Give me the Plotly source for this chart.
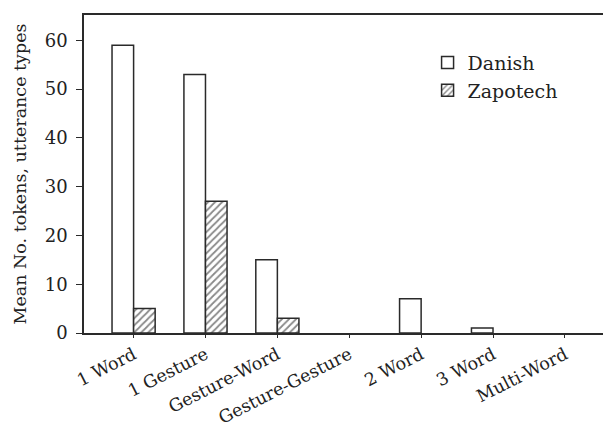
import plotly.graph_objects as go

categories = ["1 Word", "1 Gesture", "Gesture-Word", "Gesture-Gesture", "2 Word", "3 Word", "Multi-Word"]
danish = [59, 53, 15, 0, 7, 1, 0]
zapotech = [5, 27, 3, 0, 0, 0, 0]
y_ticks = [0, 10, 20, 30, 40, 50, 60]

FONT = "DejaVu Serif"
LINE = "#2a2a2a"
TXT = "#222"

xs = list(range(len(categories)))


def outline(vals):
    return [1.5 if v > 0 else 0 for v in vals]


fig = go.Figure()
fig.add_trace(go.Bar(
    x=xs, y=danish, name="Danish",
    marker=dict(color="white", line=dict(color=LINE, width=outline(danish))),
))
fig.add_trace(go.Bar(
    x=xs, y=zapotech, name="Zapotech",
    marker=dict(color="white", line=dict(color=LINE, width=outline(zapotech)),
                pattern=dict(shape="/", fgcolor="#111", bgcolor="white", size=5, solidity=0.35)),
))

fig.update_layout(
    width=603, height=429,
    margin=dict(l=84, r=0, t=15, b=96, autoexpand=False),
    paper_bgcolor="white", plot_bgcolor="white",
    barmode="group", bargap=0.4, bargroupgap=0,
    font=dict(family=FONT, size=17, color=TXT),
    showlegend=True,
    legend=dict(x=0.662, y=0.91, xanchor="left", yanchor="top",
                font=dict(family=FONT, size=19, color=TXT),
                bgcolor="rgba(0,0,0,0)", tracegroupgap=0),
    xaxis=dict(
        tickmode="array", tickvals=xs, ticktext=categories,
        range=[-0.69, 6.53], tickangle=-27, automargin=False,
        showline=True, linecolor=LINE, linewidth=1.5, mirror=True,
        ticks="outside", ticklen=3, tickcolor=LINE, tickwidth=1.2,
        showgrid=False, zeroline=False,
        tickfont=dict(family=FONT, size=17.5, color=TXT),
    ),
    yaxis=dict(
        range=[0, 65.2], tickvals=y_ticks, automargin=False,
        showline=True, linecolor=LINE, linewidth=1.5,
        ticks="outside", ticklen=6, tickcolor=LINE, tickwidth=1.2,
        ticklabelstandoff=5,
        showgrid=False, zeroline=False,
        tickfont=dict(family=FONT, size=18, color=TXT),
        title=dict(text="Mean No. tokens, utterance types",
                   font=dict(family=FONT, size=17.5, color=TXT), standoff=14),
    ),
)

fig.write_html("out.html", config={"displayModeBar": False},
               post_script="document.body.style.margin='0';document.body.style.overflow='hidden';")
